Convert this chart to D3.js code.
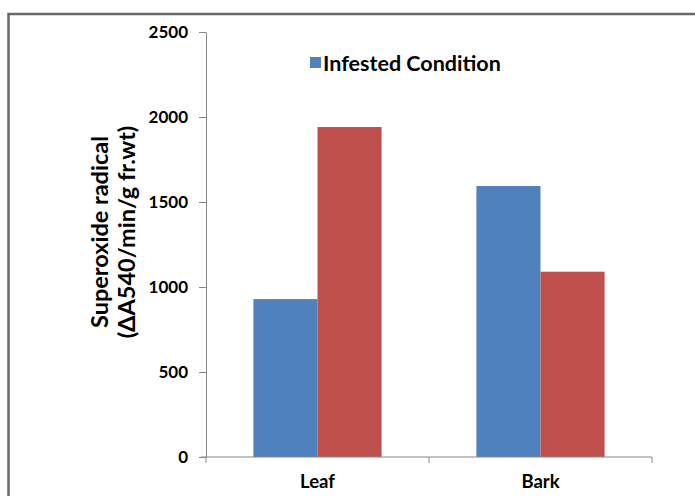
<!DOCTYPE html>
<meta charset="utf-8">
<style type="text/css">
    body {
        margin: 0;
        background: #fff;
    }
    text {
        font-family: Lato, "Open Sans", sans-serif;
        font-weight: bold;
        fill: #000;
    }
    svg {
        display: block;
    }
</style>
<body>
<script src="https://cdn.jsdelivr.net/npm/d3@7"></script>
<script>
// Chart data
var categories = ["Leaf", "Bark"];
var infested = [929, 1594];
var second = [1941, 1090];
var yTicks = [0, 500, 1000, 1500, 2000, 2500];
var legendLabel = "Infested Condition";
var yTitle = ["Superoxide radical", "(\u0394A540/min/g fr.wt)"];

var seriesColors = ["#4F81BD", "#C0504D"];

var width = 695, height = 496;
var margin = {top: 32, left: 206, right: 43, bottom: 39};
var plotW = width - margin.left - margin.right,
    plotH = height - margin.top - margin.bottom;

var svg = d3.select("body").append("svg")
    .attr("width", width)
    .attr("height", height);

// outer chart border
svg.append("rect")
    .attr("x", 8.5).attr("y", 14)
    .attr("width", 720).attr("height", 520)
    .attr("fill", "none")
    .attr("stroke", "#676767")
    .attr("stroke-width", 2.5);

var chart = svg.append("g")
    .attr("transform", "translate(" + margin.left + "," + margin.top + ")");

// scales
var x0 = d3.scaleBand().domain(categories).range([0, plotW]).padding(0);
var x1 = d3.scaleBand().domain([0, 1]).range([0, x0.bandwidth()])
    .paddingInner(0).paddingOuter(0.74);
var y = d3.scaleLinear().domain([0, 2500]).range([plotH, 0]);

// bars
var rows = categories.map(function(c, i) {
    return {cat: c, values: [infested[i], second[i]]};
});

var groups = chart.selectAll("g.cat")
    .data(rows)
    .enter().append("g")
    .attr("class", "cat")
    .attr("transform", function(d) { return "translate(" + x0(d.cat) + ",0)"; });

groups.selectAll("rect")
    .data(function(d) { return d.values.map(function(v, k) { return {k: k, v: v}; }); })
    .enter().append("rect")
    .attr("x", function(d) { return x1(d.k); })
    .attr("y", function(d) { return y(d.v); })
    .attr("width", x1.bandwidth())
    .attr("height", function(d) { return plotH - y(d.v); })
    .attr("fill", function(d) { return seriesColors[d.k]; });

// y axis
var yAxis = chart.append("g")
    .call(d3.axisLeft(y).tickValues(yTicks).tickFormat(d3.format("d"))
        .tickSize(7).tickSizeOuter(0).tickPadding(11));
yAxis.select(".domain").attr("stroke", "#868686");
yAxis.selectAll(".tick line").attr("stroke", "#868686");
yAxis.selectAll(".tick text")
    .style("font-size", "17px")
    .attr("fill", "#000");

// x axis line and boundary ticks
var xAxis = chart.append("g").attr("transform", "translate(0," + plotH + ")");
xAxis.append("line")
    .attr("x1", -5).attr("x2", plotW)
    .attr("stroke", "#868686");
var bounds = [0].concat(categories.map(function(c) { return x0(c) + x0.bandwidth(); }));
xAxis.selectAll("line.tk")
    .data(bounds)
    .enter().append("line")
    .attr("class", "tk")
    .attr("x1", function(d) { return d; })
    .attr("x2", function(d) { return d; })
    .attr("y1", 0).attr("y2", 6)
    .attr("stroke", "#868686");
xAxis.selectAll("text")
    .data(categories)
    .enter().append("text")
    .attr("x", function(d) { return x0(d) + x0.bandwidth() / 2; })
    .attr("y", 31)
    .attr("text-anchor", "middle")
    .style("font-size", "18.5px")
    .text(function(d) { return d; });

// y axis title
var title = svg.append("text")
    .attr("transform", "translate(108,232) rotate(-90)")
    .attr("text-anchor", "middle")
    .style("font-size", "23.5px");
title.selectAll("tspan")
    .data(yTitle)
    .enter().append("tspan")
    .attr("x", 0)
    .attr("y", function(d, i) { return i * 27; })
    .text(function(d) { return d; });

// legend
var legend = svg.append("g").attr("transform", "translate(310,57)");
legend.append("rect")
    .attr("width", 11).attr("height", 11)
    .attr("fill", seriesColors[0]);
legend.append("text")
    .attr("x", 13).attr("y", 13.5)
    .style("font-size", "21.5px")
    .text(legendLabel);
</script>
</body>
